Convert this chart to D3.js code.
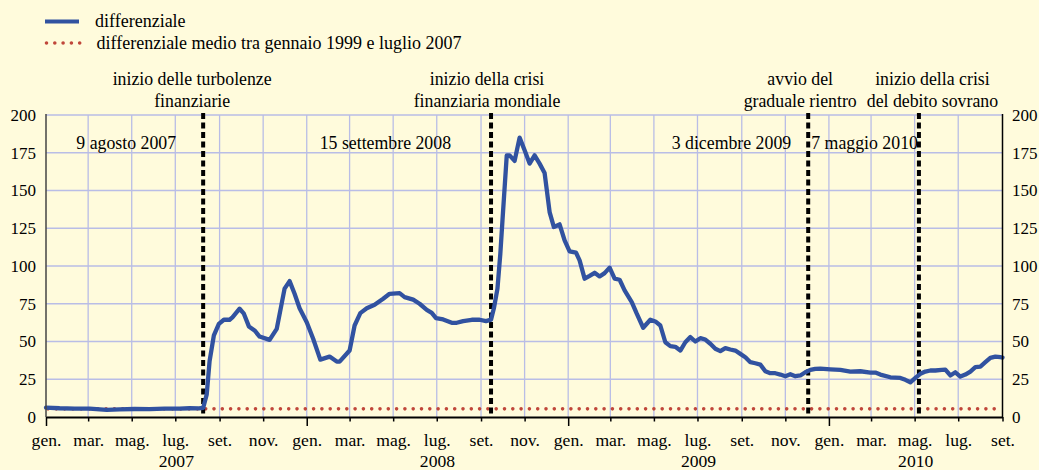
<!DOCTYPE html>
<html><head><meta charset="utf-8">
<script src="https://cdn.jsdelivr.net/npm/d3@7"></script>
<style>
html,body{margin:0;padding:0;background:#fffbdc;}
svg{display:block;}
svg text{font-family:"Liberation Serif","Times New Roman",Tinos,"DejaVu Serif",serif;fill:#000;}
</style></head><body>
<svg id="chart" width="1039" height="470"></svg>
<script>
// ---------- DATA ----------
const seriesNames = ["differenziale", "differenziale medio tra gennaio 1999 e luglio 2007"];
const dates = ["2007-01-01","2007-01-20","2007-02-10","2007-03-03","2007-03-27","2007-04-14","2007-05-05","2007-05-26","2007-06-16","2007-07-07","2007-07-21","2007-08-03","2007-08-09","2007-08-14","2007-08-18","2007-08-24","2007-08-31","2007-09-07","2007-09-15","2007-09-19","2007-09-29","2007-10-05","2007-10-12","2007-10-20","2007-10-27","2007-11-10","2007-11-20","2007-12-01","2007-12-08","2007-12-15","2007-12-22",
"2008-01-01","2008-01-10","2008-01-20","2008-02-02","2008-02-12","2008-02-16","2008-03-01","2008-03-08","2008-03-16","2008-03-25","2008-04-05","2008-04-17","2008-04-26","2008-05-10","2008-05-17","2008-05-29","2008-06-07","2008-06-17","2008-06-24","2008-06-30","2008-07-10","2008-07-22","2008-07-29","2008-08-07","2008-08-19","2008-08-30","2008-09-08","2008-09-15","2008-09-19","2008-09-24","2008-09-28","2008-10-01","2008-10-07","2008-10-11","2008-10-18","2008-10-25","2008-11-01","2008-11-08","2008-11-15","2008-11-22","2008-11-29","2008-12-06","2008-12-12","2008-12-20","2008-12-27",
"2009-01-03","2009-01-12","2009-01-17","2009-01-24","2009-01-31","2009-02-07","2009-02-14","2009-02-21","2009-02-28","2009-03-07","2009-03-14","2009-03-21","2009-03-31","2009-04-07","2009-04-16","2009-04-26","2009-05-03","2009-05-10","2009-05-17","2009-05-24","2009-05-31","2009-06-07","2009-06-14","2009-06-21","2009-06-28","2009-07-05","2009-07-12","2009-07-19","2009-07-26","2009-08-02","2009-08-09","2009-08-16","2009-08-23","2009-08-30","2009-09-06","2009-09-13","2009-09-20","2009-09-27","2009-10-04","2009-10-11","2009-10-18","2009-10-25","2009-11-01","2009-11-08","2009-11-15","2009-11-22","2009-11-29","2009-12-06","2009-12-13","2009-12-20",
"2010-01-03","2010-01-17","2010-01-31","2010-02-14","2010-02-28","2010-03-07","2010-03-14","2010-03-28","2010-04-11","2010-04-18","2010-04-25","2010-05-02","2010-05-09","2010-05-16","2010-05-23","2010-05-30","2010-06-08","2010-06-13","2010-06-20","2010-06-27","2010-07-04","2010-07-11","2010-07-18","2010-07-25","2010-08-01","2010-08-08","2010-08-15","2010-08-22","2010-08-29","2010-09-01"];
const values = [6.2,5.8,5.6,5.6,4.7,5.0,5.3,5.2,5.5,5.6,5.8,5.7,6.0,15,37,54,61.7,64.4,64.4,66,71.7,68.4,60,57.3,53.3,51.1,58.4,85,90,81.6,72,
62.8,51.8,38,40,36.7,36.7,44,60.6,68.8,72,74.3,78.3,81.6,82,79.4,77.7,75,71,69,65.5,64.6,62.4,62.4,63.5,64.4,64.4,63.5,64.5,72,85,108,130,173.3,173.3,169.6,185,176.7,167.8,173.3,167.8,161.6,135.7,125.8,127.6,117,
109.7,108.8,103.7,91.6,93.5,95.5,93.1,95.3,98.9,91.6,90.9,83.8,76.1,68.4,59.1,64.4,63.3,60.6,49.5,46.9,46.5,44,49.5,52.9,50,52.2,51.3,48.5,45.2,43.6,45.6,44.7,44,41.8,39.6,36.3,35.6,34.7,30.3,29,29,28.1,27,28.3,27,27.5,29.6,31.2,31.9,32.1,
31.6,31.2,30.1,30.3,29.4,29.4,28.1,26.3,25.9,24.6,23,25.9,28.6,30.1,30.8,30.8,31.2,31.4,27.5,29.6,26.8,28.1,30.1,33,33.4,36.3,39.2,40,39.6,39.4];
const averageValue = 5.4;
const yTicks = [0, 25, 50, 75, 100, 125, 150, 175, 200];
const monthLabels = ["gen.","feb.","mar.","apr.","mag.","giu.","lug.","ago.","set.","ott.","nov.","dic."];
const years = [2007, 2008, 2009, 2010];
const domainDates = ["2007-01-01", "2010-09-01"];
const eventDates = ["2007-08-09", "2008-09-15", "2009-12-03", "2010-05-07"];
const eventDateLabels = ["9 agosto 2007", "15 settembre 2008", "3 dicembre 2009", "7 maggio 2010"];
const eventTitles = [["inizio delle turbolenze","finanziarie"],["inizio della crisi","finanziaria mondiale"],["avvio del","graduale rientro"],["inizio della crisi","del debito sovrano"]];

// ---------- LAYOUT (not data) ----------
const titleDx = [-11, -4, -8, 13.5];
const dateDx = [-27, -40, -17, -1];
const L = 46, R = 1002.5, T = 115, B = 417;
const FONT = '"Liberation Serif","Times New Roman",Tinos,"DejaVu Serif",serif';
const FS = {legend: 18, note: 17.8, month: 17.6, year: 17.6, ytick: 17};
const colors = {bg:"#fffbdc", grid:"#b9bde6", blue:"#3152a0", red:"#c0463a"};

// ---------- CHART ----------
const parse = d3.timeParse("%Y-%m-%d");
const data = dates.map((d, i) => ({date: parse(d), value: values[i]}));
const svg = d3.select("#chart");
svg.append("rect").attr("width",1039).attr("height",470).attr("fill",colors.bg);

const x = d3.scaleTime().domain(domainDates.map(parse)).range([L, R]);
const y = d3.scaleLinear().domain([0, 200]).range([B, T]);
const xTicks = x.ticks(d3.timeMonth.every(2));

// gridlines
const g = svg.append("g");
g.selectAll(".hg").data(yTicks.filter(v => v > 0)).join("line")
  .attr("x1", L).attr("x2", R).attr("y1", d => y(d)).attr("y2", d => y(d))
  .attr("stroke", colors.grid).attr("stroke-width", 1.3);
g.selectAll(".vg").data(xTicks.slice(1, -1)).join("line")
  .attr("x1", d => x(d)).attr("x2", d => x(d)).attr("y1", T).attr("y2", B)
  .attr("stroke", colors.grid).attr("stroke-width", 1.3);

// average dotted line
svg.append("line").attr("x1", L + 2).attr("x2", R - 2)
  .attr("y1", y(averageValue)).attr("y2", y(averageValue))
  .attr("stroke", colors.red).attr("stroke-width", 3.6)
  .attr("stroke-linecap", "round").attr("stroke-dasharray", "0,8.3");

// event dashed lines
svg.selectAll(".ev").data(eventDates).join("line")
  .attr("x1", d => x(parse(d))).attr("x2", d => x(parse(d)))
  .attr("y1", T - 2).attr("y2", B - 1)
  .attr("stroke", "#000").attr("stroke-width", 4).attr("stroke-dasharray", "6,3.5");

// series line
const line = d3.line().x(d => x(d.date)).y(d => y(d.value));
svg.append("path").datum(data).attr("d", line)
  .attr("fill", "none").attr("stroke", colors.blue).attr("stroke-width", 4.3)
  .attr("stroke-linejoin", "round").attr("stroke-linecap", "round");

// axes lines
svg.append("line").attr("x1", L).attr("x2", L).attr("y1", T - 1).attr("y2", B)
  .attr("stroke", "#444").attr("stroke-width", 1.5);
svg.append("line").attr("x1", R).attr("x2", R).attr("y1", T - 1).attr("y2", B)
  .attr("stroke", "#000").attr("stroke-width", 1.5);

// x axis
const xAxis = svg.append("g").attr("transform", `translate(0,${B})`)
  .call(d3.axisBottom(x).tickValues(xTicks).tickSize(0).tickFormat(""));
xAxis.attr("font-family", FONT).attr("font-size", FS.month);
xAxis.select(".domain").attr("stroke", "#000").attr("stroke-width", 2);
xAxis.selectAll(".tick line").remove();
xAxis.selectAll(".tick text").remove();
xAxis.selectAll(".tick").append("line")
  .attr("y1", 0).attr("y2", d => d.getMonth() === 0 ? 9 : 4.5)
  .attr("stroke", "#000").attr("stroke-width", 1.5);
xAxis.selectAll(".tick").append("text")
  .attr("y", 29).attr("text-anchor", "middle").attr("fill", "#000")
  .style("font-size", FS.month + "px")
  .text(d => monthLabels[d.getMonth()]);

// year labels
svg.selectAll(".yr").data(years).join("text")
  .attr("x", yr => {
    const s = d3.max([x.domain()[0], new Date(yr, 0, 1)]);
    const e = d3.min([x.domain()[1], new Date(yr + 1, 0, 1)]);
    return (x(s) + x(e)) / 2;
  })
  .attr("y", 467).attr("text-anchor", "middle").style("font-size", FS.year + "px").text(d => d);

// y labels
svg.selectAll(".yl").data(yTicks).join("text")
  .attr("x", L - 10).attr("y", d => y(d)).attr("dy", "0.35em")
  .attr("text-anchor", "end").style("font-size", FS.ytick + "px").text(d => d);
svg.selectAll(".yr2").data(yTicks).join("text")
  .attr("x", R + 9.5).attr("y", d => y(d)).attr("dy", "0.35em")
  .attr("text-anchor", "start").style("font-size", FS.ytick + "px").text(d => d);

// event titles and date labels
eventDates.forEach((d, i) => {
  const ex = x(parse(d));
  eventTitles[i].forEach((t, j) => {
    svg.append("text").attr("x", ex + titleDx[i]).attr("y", 85 + j * 22)
      .attr("text-anchor", "middle").style("font-size", FS.note + "px").text(t);
  });
  svg.append("text").attr("x", ex + dateDx[i]).attr("y", 149)
    .attr("text-anchor", "end").style("font-size", FS.note + "px").text(eventDateLabels[i]);
});

// legend
svg.append("line").attr("x1", 45).attr("x2", 79).attr("y1", 21.5).attr("y2", 21.5)
  .attr("stroke", colors.blue).attr("stroke-width", 4);
svg.append("text").attr("x", 95).attr("y", 27).style("font-size", FS.legend + "px").text(seriesNames[0]);
svg.append("line").attr("x1", 46.5).attr("x2", 80).attr("y1", 43).attr("y2", 43)
  .attr("stroke", colors.red).attr("stroke-width", 3.6)
  .attr("stroke-linecap", "round").attr("stroke-dasharray", "0,8.3");
svg.append("text").attr("x", 96.5).attr("y", 48.5).style("font-size", FS.legend + "px").text(seriesNames[1]);
</script>
</body></html>
